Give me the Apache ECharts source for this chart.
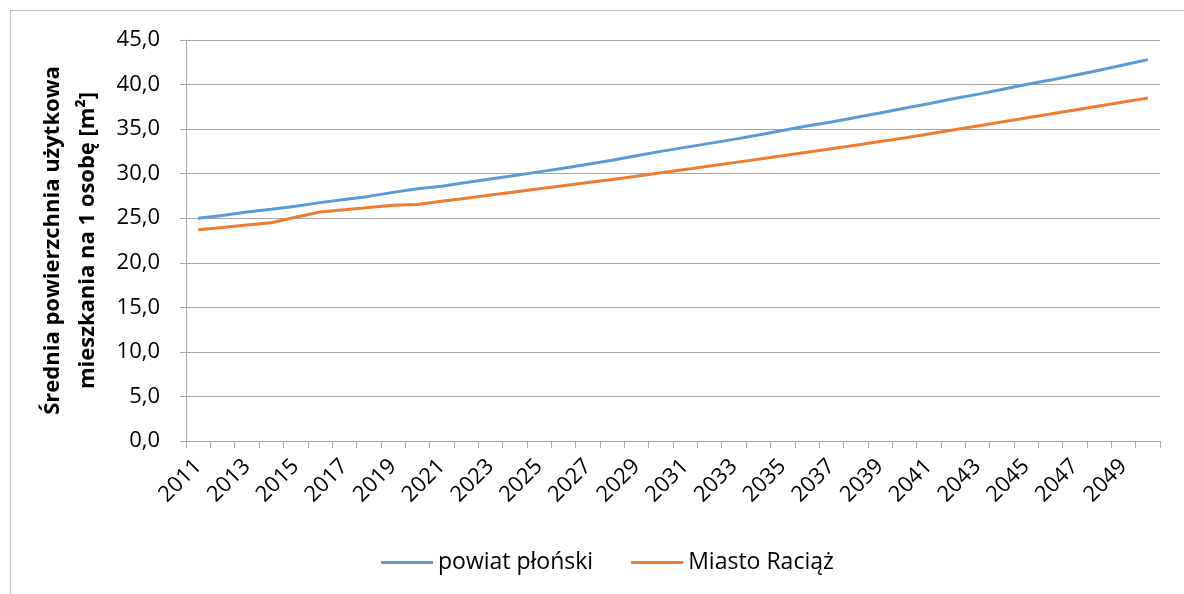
<!DOCTYPE html>
<html>
<head>
<meta charset="utf-8">
<script src="https://cdn.jsdelivr.net/npm/echarts@6/dist/echarts.min.js"></script>
<style>
  html, body { margin: 0; padding: 0; background: #fff; }
  #chart { width: 1184px; height: 594px; }
</style>
</head>
<body>
<div id="chart"></div>
<script>
var years = [];
for (var y = 2011; y <= 2050; y++) years.push(String(y));

var powiat = [
  25.0, 25.3, 25.7, 26.0, 26.35, 26.75, 27.1, 27.45, 27.9, 28.3,
  28.6, 29.0, 29.4, 29.8, 30.2, 30.6, 31.05, 31.5, 32.0, 32.5,
  32.95, 33.4, 33.85, 34.35, 34.85, 35.35, 35.8, 36.3, 36.8, 37.35,
  37.85, 38.4, 38.9, 39.45, 40.0, 40.5, 41.05, 41.6, 42.2, 42.8
];
var raciaz = [
  23.7, 23.97, 24.25, 24.5, 25.1, 25.7, 25.95, 26.2, 26.45, 26.55,
  26.9, 27.25, 27.6, 27.95, 28.3, 28.65, 29.0, 29.35, 29.72, 30.1,
  30.48, 30.86, 31.24, 31.62, 32.0, 32.4, 32.8, 33.2, 33.6, 34.0,
  34.45, 34.9, 35.35, 35.8, 36.25, 36.7, 37.15, 37.6, 38.05, 38.5
];

var FONT = 'Open Sans';
var chart = echarts.init(document.getElementById('chart'));
chart.setOption({
  animation: false,
  textStyle: { fontFamily: FONT },
  graphic: [{
    type: 'rect',
    shape: { x: 10.5, y: 10.5, width: 1300, height: 700 },
    style: { fill: 'none', stroke: '#bfbfbf', lineWidth: 1 },
    silent: true
  }],
  grid: { left: 186, right: 24, top: 40, bottom: 153 },
  legend: {
    top: 546,
    left: 376,
    itemGap: 38,
    itemWidth: 52,
    itemHeight: 3,
    icon: 'rect',
    textStyle: { fontSize: 23, color: '#000', fontFamily: FONT },
    data: ['powiat płoński', 'Miasto Raciąż']
  },
  xAxis: {
    type: 'category',
    data: years,
    boundaryGap: true,
    axisLine: { lineStyle: { color: '#a6a6a6', width: 1 } },
    axisTick: { show: true, interval: 0, length: 7, lineStyle: { color: '#a6a6a6' } },
    axisLabel: {
      interval: 1,
      rotate: 45,
      fontSize: 22,
      color: '#000',
      margin: 22,
      fontFamily: FONT
    }
  },
  yAxis: {
    type: 'value',
    min: 0,
    max: 45,
    interval: 5,
    name: 'Średnia powierzchnia użytkowa\nmieszkania na 1 osobę [m²]',
    nameLocation: 'middle',
    nameGap: 75,
    nameTextStyle: { fontSize: 22, fontWeight: 'bold', color: '#000', lineHeight: 35, fontFamily: FONT },
    axisLine: { show: true, lineStyle: { color: '#a6a6a6' } },
    axisTick: { show: true, length: 6, lineStyle: { color: '#a6a6a6' } },
    splitLine: { lineStyle: { color: '#a6a6a6', width: 1 } },
    axisLabel: {
      fontSize: 22,
      color: '#000',
      margin: 26,
      fontFamily: FONT,
      formatter: function (v) { return v.toFixed(1).replace('.', ','); }
    }
  },
  series: [
    {
      name: 'powiat płoński',
      type: 'line',
      data: powiat,
      symbol: 'none',
      lineStyle: { color: '#5B9BD5', width: 3 },
      itemStyle: { color: '#5B9BD5' }
    },
    {
      name: 'Miasto Raciąż',
      type: 'line',
      data: raciaz,
      symbol: 'none',
      lineStyle: { color: '#ED7D31', width: 3 },
      itemStyle: { color: '#ED7D31' }
    }
  ]
});
</script>
</body>
</html>
